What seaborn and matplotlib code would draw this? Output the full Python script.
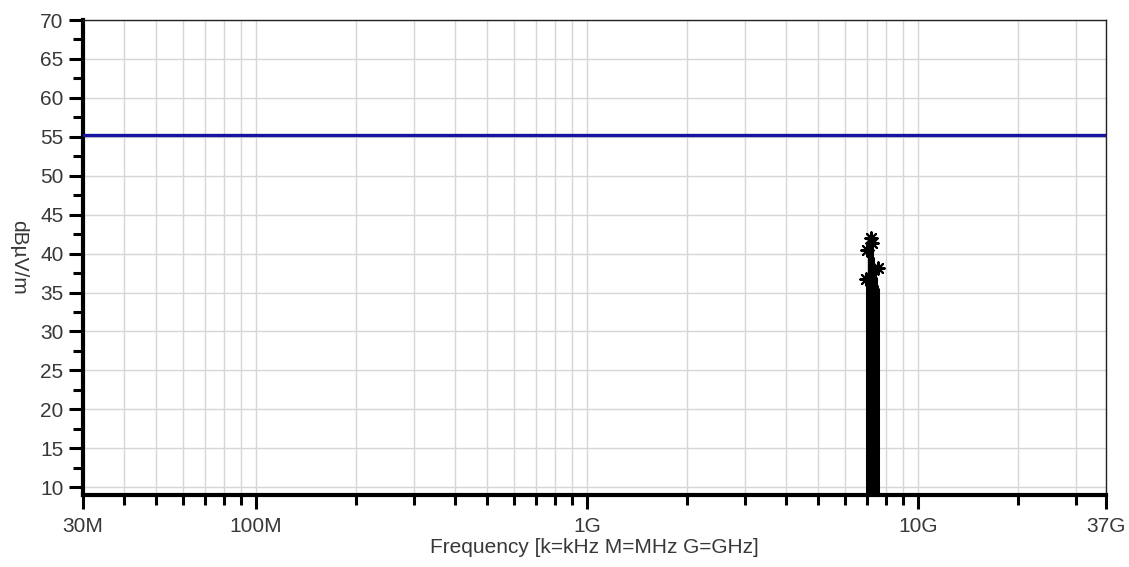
import matplotlib
matplotlib.use("Agg")
import matplotlib.pyplot as plt
import matplotlib.ticker as mticker
import seaborn as sns
import pandas as pd

# Limit line (dBµV/m) across the full sweep
limit_freq_hz = [30e6, 37e9]
limit_level = [55.2, 55.2]

# Measured spectrum around the emission at ~7.2 GHz (GHz, dBµV/m)
spectrum_freq_ghz = [7.04, 7.07, 7.10, 7.13, 7.16, 7.19, 7.22, 7.25, 7.28, 7.31,
                     7.34, 7.37, 7.40, 7.43, 7.46, 7.49, 7.52, 7.55]
spectrum_level = [35.8, 37.0, 39.5, 40.2, 40.8, 41.3, 42.0, 41.2, 40.6, 39.6,
                  39.0, 38.4, 38.0, 37.6, 37.0, 36.6, 36.0, 35.6]

# Peak markers
peak_freq_ghz = [6.98, 7.02, 7.22, 7.27, 7.55]
peak_level = [36.8, 40.4, 42.0, 41.3, 38.1]

floor_level = 9.0

# Axis tick positions / labels
major_ticks_hz = [30e6, 100e6, 1e9, 10e9, 37e9]
major_labels = ["30M", "100M", "1G", "10G", "37G"]
minor_ticks_hz = [40e6, 50e6, 60e6, 70e6, 80e6, 90e6,
                  200e6, 300e6, 400e6, 500e6, 600e6, 700e6, 800e6, 900e6,
                  2e9, 3e9, 4e9, 5e9, 6e9, 7e9, 8e9, 9e9, 20e9, 30e9]
y_major = [10, 15, 20, 25, 30, 35, 40, 45, 50, 55, 60, 65, 70]
y_minor = [12.5, 17.5, 22.5, 27.5, 32.5, 37.5, 42.5, 47.5, 52.5, 57.5, 62.5, 67.5]

sns.set_theme(style="white")
plt.rcParams["font.family"] = ["Liberation Sans", "DejaVu Sans"]

text_color = "#383838"
fs = 15

fig = plt.figure(figsize=(11.29, 5.67), dpi=100)
ax = fig.add_axes([0.0735, 0.127, 0.9061, 0.8377])
ax.set_xscale("log")
ax.set_xlim(30e6, 37e9)
ax.set_ylim(floor_level, 70)

grid_color = "#d6d6d6"
for f in major_ticks_hz + minor_ticks_hz:
    ax.axvline(f, color=grid_color, lw=1.0, zorder=0)
for v in y_major:
    ax.axhline(v, color=grid_color, lw=1.0, zorder=0)

# Spectrum column
spec_hz = [f * 1e9 for f in spectrum_freq_ghz]
ax.vlines(spec_hz, floor_level, spectrum_level, colors="black", lw=2.2, zorder=3)
peaks = pd.DataFrame({"freq": [f * 1e9 for f in peak_freq_ghz], "level": peak_level})
sns.scatterplot(data=peaks, x="freq", y="level", marker=(8, 2, 0), s=80,
                color="black", edgecolor="black", linewidth=1.5, ax=ax, zorder=4,
                legend=False)

# Limit line
lim = pd.DataFrame({"freq": limit_freq_hz, "level": limit_level})
sns.lineplot(data=lim, x="freq", y="level", color="#14149e", lw=2.4, ax=ax, zorder=5)

ax.xaxis.set_major_locator(mticker.FixedLocator(major_ticks_hz))
ax.xaxis.set_major_formatter(mticker.FixedFormatter(major_labels))
ax.xaxis.set_minor_locator(mticker.FixedLocator(minor_ticks_hz))
ax.xaxis.set_minor_formatter(mticker.NullFormatter())
ax.yaxis.set_major_locator(mticker.FixedLocator(y_major))
ax.yaxis.set_minor_locator(mticker.FixedLocator(y_minor))

ax.tick_params(axis="both", which="major", direction="out", length=10, width=2.2,
               color="black", labelsize=fs, labelcolor=text_color, pad=4,
               bottom=True, left=True)
ax.tick_params(axis="both", which="minor", direction="out", length=7, width=2.2,
               color="black", bottom=True, left=True)
ax.tick_params(axis="x", which="major", pad=5.5)

for side in ("left", "bottom"):
    ax.spines[side].set_linewidth(3.0)
    ax.spines[side].set_color("black")
for side in ("top", "right"):
    ax.spines[side].set_linewidth(1.0)
    ax.spines[side].set_color("#222222")

ax.set_xlabel("Frequency [k=kHz M=MHz G=GHz]", fontsize=fs, color=text_color, labelpad=1.5)
ax.set_ylabel("dBµV/m", fontsize=fs, color=text_color, rotation=270, va="center")
ax.yaxis.set_label_coords(-0.0626, 0.5)

fig.savefig("out.png", dpi=100, facecolor="white")
